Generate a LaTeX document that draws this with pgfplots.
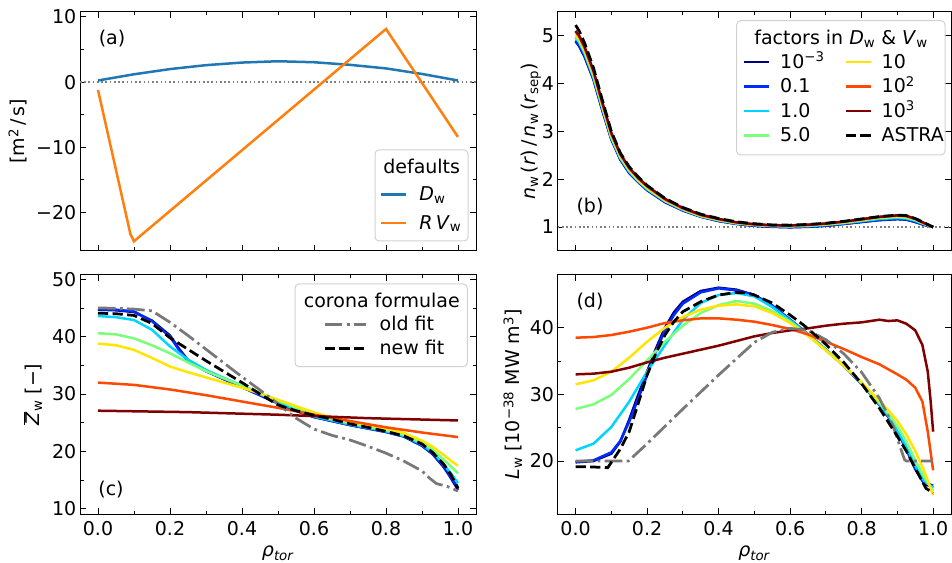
\documentclass[border=0pt]{standalone}
\usepackage{fontspec}
\setmainfont{DejaVu Sans}
\usepackage{pgfplots}
\pgfplotsset{compat=1.18}
\definecolor{cD}{HTML}{1F77B4}
\definecolor{cV}{HTML}{FF7F0E}
\definecolor{j1}{rgb}{0,0,0.5}
\definecolor{j2}{rgb}{0,0.167,1}
\definecolor{j3}{rgb}{0,0.833,1}
\definecolor{j4}{rgb}{0.484,1,0.484}
\definecolor{j5}{rgb}{1,0.9,0}
\definecolor{j6}{rgb}{1,0.284,0}
\definecolor{j7}{rgb}{0.5,0,0}
\definecolor{oldg}{rgb}{0.47,0.47,0.47}
\newcommand\fs{\fontsize{19}{22}\selectfont}
\pgfplotsset{
  every axis/.append style={
    scale only axis, height=239.3pt,
    xmin=-0.05, xmax=1.05,
    xtick={0,0.2,0.4,0.6,0.8,1}, minor x tick num=1,
    tick align=inside,
    major tick length=6pt, minor tick length=3.5pt,
    every tick/.style={black, line width=0.9pt},
    axis line style={line width=1pt},
    tick label style={font=\fs},
    label style={font=\fs},
    /pgf/number format/assume math mode=true,
    xticklabel style={/pgf/number format/fixed, /pgf/number format/fixed zerofill, /pgf/number format/precision=1, inner sep=0pt, yshift=-7.5pt},
    yticklabel style={inner sep=0pt, xshift=-3.5pt},
    legend style={draw=none, fill=none, font=\fs, inner sep=0pt, cells={anchor=west},
      nodes={inner sep=0pt, text height=14.5pt, text depth=2pt},
      /tikz/column sep=0pt},
  },
  ln/.style={line width=2.5pt},
  dsh/.style={line width=2.75pt, dash pattern=on 10.2pt off 4.4pt},
  dd/.style={line width=2.75pt, dash pattern=on 17.6pt off 4.4pt on 2.75pt off 4.4pt},
  dot/.style={line width=1.6pt, dash pattern=on 1.6pt off 2.64pt, gray},
}
\begin{document}
\begin{tikzpicture}
\useasboundingbox (0,0) rectangle (952pt,562pt);
% ---------------- (a)
\begin{axis}[at={(80pt,311pt)}, anchor=south west, width=396pt,
  ymin=-25.9, ymax=10.8, ytick={-20,-10,0,10}, yticklabels={−20,−10,0,10},
  minor y tick num=1, xticklabels={},
  ylabel={[m\textsuperscript{2}\,/\,s]},
  ylabel style={at={(axis description cs:-0.157,0.5)}, anchor=center},
  legend image code/.code={\draw[#1] (0pt,0pt) -- (25pt,0pt);},
  legend style={at={(axis description cs:0.7576,0.2714)}, anchor=north west, row sep=11.9pt,
    /tikz/every odd column/.append style={column sep=11.7pt}},
]
\addplot[dot, forget plot] coordinates {(-0.05,0) (1.05,0)};
\addplot[ln, cD] coordinates {(0,0.25)(0.1,1.2)(0.2,2.0)(0.3,2.6)(0.4,3.0)(0.5,3.2)(0.6,3.05)(0.7,2.65)(0.8,2.1)(0.9,1.25)(1.0,0.25)};
\addlegendentry{\textit{D}\textsubscript{w}}
\addplot[ln, cV] coordinates {(0,-1.2)(0.09,-23.3)(0.1,-24.4)(0.8,8.15)(1.0,-8.4)};
\addlegendentry{\textit{R}\,\textit{V}\textsubscript{w}}
\end{axis}
% ---------------- (b)
\begin{axis}[at={(557.7pt,311pt)}, anchor=south west, width=393.3pt,
  ymin=0.5, ymax=5.5, ytick={1,2,3,4,5}, xticklabels={},
  ylabel={\textit{n}\textsubscript{w}\,(\textit{r})\,/\,\textit{n}\textsubscript{w}\,(\textit{r}\textsubscript{sep})},
  ylabel style={at={(axis description cs:-0.068,0.5)}, anchor=center},
  legend image code/.code={\draw[#1] (0pt,0pt) -- (25pt,0pt);},
  legend columns=2,
  legend style={at={(axis description cs:0.4711,0.8255)}, anchor=north west, row sep=8pt,
    /tikz/every odd column/.append style={column sep=9.5pt},
    /tikz/every even column/.append style={column sep=20pt}},
]
\addplot[dot, forget plot] coordinates {(-0.05,1) (1.05,1)};
\addplot[ln, j1, forget plot] coordinates {(0,4.88)(0.01,4.78)(0.025,4.56)(0.05,4.08)(0.075,3.43)(0.1,2.83)(0.125,2.41)(0.15,2.13)(0.175,1.94)(0.2,1.77)(0.25,1.52)(0.3,1.345)(0.35,1.215)(0.4,1.125)(0.45,1.065)(0.5,1.025)(0.55,1.005)(0.6,0.995)(0.65,1.005)(0.7,1.025)(0.75,1.065)(0.8,1.105)(0.85,1.145)(0.9,1.165)(0.925,1.155)(0.95,1.105)(0.975,1.045)(1.0,1.0)};
\addplot[ln, j2, forget plot] coordinates {(0,4.90)(0.01,4.80)(0.025,4.58)(0.05,4.10)(0.075,3.45)(0.1,2.84)(0.125,2.42)(0.15,2.14)(0.175,1.95)(0.2,1.78)(0.25,1.53)(0.3,1.35)(0.35,1.22)(0.4,1.13)(0.45,1.07)(0.5,1.03)(0.55,1.01)(0.6,1.0)(0.65,1.01)(0.7,1.03)(0.75,1.07)(0.8,1.11)(0.85,1.15)(0.9,1.17)(0.925,1.16)(0.95,1.11)(0.975,1.05)(1.0,1.0)};
\addplot[ln, j3, forget plot] coordinates {(0,4.96)(0.01,4.86)(0.025,4.63)(0.05,4.13)(0.075,3.48)(0.1,2.86)(0.125,2.44)(0.15,2.16)(0.175,1.96)(0.2,1.79)(0.25,1.54)(0.3,1.36)(0.35,1.225)(0.4,1.14)(0.45,1.075)(0.5,1.04)(0.55,1.02)(0.6,1.01)(0.65,1.02)(0.7,1.045)(0.75,1.08)(0.8,1.125)(0.85,1.17)(0.9,1.19)(0.925,1.18)(0.95,1.13)(0.975,1.06)(1.0,1.0)};
\addplot[ln, j4, forget plot] coordinates {(0,4.98)(0.01,4.89)(0.025,4.66)(0.05,4.16)(0.075,3.50)(0.1,2.88)(0.125,2.46)(0.15,2.18)(0.175,1.97)(0.2,1.81)(0.25,1.55)(0.3,1.37)(0.35,1.23)(0.4,1.145)(0.45,1.08)(0.5,1.045)(0.55,1.025)(0.6,1.02)(0.65,1.03)(0.7,1.055)(0.75,1.09)(0.8,1.14)(0.85,1.19)(0.9,1.21)(0.925,1.20)(0.95,1.15)(0.975,1.07)(1.0,1.0)};
\addplot[ln, j5, forget plot] coordinates {(0,5.02)(0.01,4.93)(0.025,4.70)(0.05,4.20)(0.075,3.53)(0.1,2.91)(0.125,2.49)(0.15,2.20)(0.175,1.99)(0.2,1.82)(0.25,1.56)(0.3,1.38)(0.35,1.24)(0.4,1.155)(0.45,1.09)(0.5,1.05)(0.55,1.03)(0.6,1.025)(0.65,1.04)(0.7,1.06)(0.75,1.10)(0.8,1.15)(0.85,1.20)(0.9,1.225)(0.925,1.215)(0.95,1.16)(0.975,1.075)(1.0,1.0)};
\addplot[ln, j6, forget plot] coordinates {(0,5.08)(0.01,4.98)(0.025,4.75)(0.05,4.25)(0.075,3.58)(0.1,2.95)(0.125,2.52)(0.15,2.23)(0.175,2.02)(0.2,1.85)(0.25,1.58)(0.3,1.39)(0.35,1.25)(0.4,1.165)(0.45,1.095)(0.5,1.055)(0.55,1.035)(0.6,1.03)(0.65,1.045)(0.7,1.07)(0.75,1.11)(0.8,1.16)(0.85,1.21)(0.9,1.24)(0.925,1.23)(0.95,1.17)(0.975,1.08)(1.0,1.0)};
\addplot[ln, j7, forget plot] coordinates {(0,5.10)(0.01,5.00)(0.025,4.77)(0.05,4.27)(0.075,3.60)(0.1,2.97)(0.125,2.53)(0.15,2.24)(0.175,2.03)(0.2,1.86)(0.25,1.59)(0.3,1.40)(0.35,1.26)(0.4,1.17)(0.45,1.10)(0.5,1.06)(0.55,1.04)(0.6,1.035)(0.65,1.05)(0.7,1.075)(0.75,1.115)(0.8,1.165)(0.85,1.215)(0.9,1.245)(0.925,1.235)(0.95,1.175)(0.975,1.085)(1.0,1.0)};
\addplot[dsh, black, forget plot] coordinates {(0,5.22)(0.01,5.10)(0.025,4.85)(0.05,4.33)(0.075,3.65)(0.1,3.00)(0.125,2.55)(0.15,2.26)(0.175,2.05)(0.2,1.87)(0.25,1.60)(0.3,1.41)(0.35,1.27)(0.4,1.18)(0.45,1.11)(0.5,1.07)(0.55,1.045)(0.6,1.04)(0.65,1.055)(0.7,1.08)(0.75,1.12)(0.8,1.17)(0.85,1.22)(0.9,1.25)(0.925,1.24)(0.95,1.18)(0.975,1.09)(1.0,1.0)};
\addlegendimage{ln, j1}\addlegendentry{10\textsuperscript{−3}}
\addlegendimage{ln, j5}\addlegendentry{10}
\addlegendimage{ln, j2}\addlegendentry{0.1}
\addlegendimage{ln, j6}\addlegendentry{10\textsuperscript{2}}
\addlegendimage{ln, j3}\addlegendentry{1.0}
\addlegendimage{ln, j7}\addlegendentry{10\textsuperscript{3}}
\addlegendimage{ln, j4}\addlegendentry{5.0}
\addlegendimage{dsh, black}\addlegendentry{ASTRA}
\end{axis}
% ---------------- (c)
\begin{axis}[at={(80pt,48pt)}, anchor=south west, width=396pt,
  ymin=9.1, ymax=50.8, ytick={10,20,30,40,50}, minor y tick num=1,
  xlabel={\textit{ρ}\textsubscript{\textit{tor}}},
  xlabel style={at={(axis description cs:0.5,-0.165)}, anchor=center},
  ylabel={$\overline{\mbox{\textit{Z}}}$\textsubscript{w} [−]},
  ylabel style={at={(axis description cs:-0.119,0.5)}, anchor=center},
  legend image code/.code={\draw[#1] (0pt,0pt) -- (40.7pt,0pt);},
  legend style={at={(axis description cs:0.6144,0.8272)}, anchor=north west, row sep=7.5pt,
    /tikz/every odd column/.append style={column sep=12.7pt}},
]
\addplot[ln, j1, forget plot] coordinates {(0,44.7)(0.05,44.6)(0.1,44.3)(0.15,42.8)(0.2,40.2)(0.225,37.9)(0.25,35.9)(0.3,34.0)(0.35,32.6)(0.4,31.2)(0.45,29.8)(0.5,28.4)(0.55,27.1)(0.6,26.0)(0.65,25.3)(0.7,24.6)(0.75,24.0)(0.8,23.4)(0.85,22.6)(0.9,21.0)(0.93,19.5)(0.96,17.3)(0.98,15.4)(1.0,13.3)};
\addplot[ln, j2, forget plot] coordinates {(0,44.8)(0.05,44.7)(0.1,44.4)(0.15,42.7)(0.2,40.0)(0.225,37.7)(0.25,35.7)(0.3,34.0)(0.35,32.6)(0.4,31.2)(0.45,29.8)(0.5,28.4)(0.55,27.1)(0.6,26.0)(0.65,25.3)(0.7,24.6)(0.75,24.0)(0.8,23.4)(0.85,22.6)(0.9,21.0)(0.93,19.6)(0.96,17.5)(0.98,15.6)(1.0,13.6)};
\addplot[ln, j3, forget plot] coordinates {(0,43.6)(0.05,43.4)(0.1,42.9)(0.15,41.2)(0.2,38.3)(0.25,36.0)(0.3,34.2)(0.35,32.8)(0.4,31.5)(0.45,30.0)(0.5,28.6)(0.55,27.3)(0.6,26.1)(0.65,25.4)(0.7,24.7)(0.75,24.1)(0.8,23.5)(0.85,22.7)(0.9,21.2)(0.93,19.8)(0.96,17.8)(0.98,16.2)(1.0,14.5)};
\addplot[ln, j4, forget plot] coordinates {(0,40.6)(0.05,40.4)(0.1,39.7)(0.15,38.5)(0.2,37.1)(0.25,35.5)(0.3,34.0)(0.35,32.7)(0.4,31.5)(0.45,30.2)(0.5,28.9)(0.55,27.6)(0.6,26.4)(0.65,25.6)(0.7,24.9)(0.75,24.3)(0.8,23.7)(0.85,22.9)(0.9,21.5)(0.93,20.3)(0.96,18.6)(0.98,17.4)(1.0,16.2)};
\addplot[ln, j5, forget plot] coordinates {(0,38.8)(0.05,38.5)(0.1,37.7)(0.15,36.3)(0.2,34.8)(0.25,33.8)(0.3,32.9)(0.35,32.0)(0.4,31.1)(0.45,30.1)(0.5,29.0)(0.55,27.9)(0.6,26.8)(0.65,25.9)(0.7,25.2)(0.75,24.6)(0.8,24.0)(0.85,23.2)(0.9,21.9)(0.93,20.8)(0.96,19.4)(0.98,18.4)(1.0,17.5)};
\addplot[ln, j6, forget plot] coordinates {(0,32.0)(0.1,31.6)(0.2,30.8)(0.3,29.8)(0.4,28.7)(0.5,27.6)(0.6,26.4)(0.7,25.3)(0.8,24.2)(0.9,23.3)(1.0,22.5)};
\addplot[ln, j7, forget plot] coordinates {(0,27.1)(0.25,26.85)(0.5,26.4)(0.75,25.8)(1.0,25.4)};
\addplot[dd, oldg] coordinates {(0,45.0)(0.05,44.95)(0.1,44.8)(0.15,44.5)(0.2,42.5)(0.25,40.2)(0.3,37.8)(0.35,35.4)(0.4,33.0)(0.45,30.7)(0.5,28.3)(0.55,25.8)(0.6,23.9)(0.65,22.8)(0.7,22.0)(0.75,20.9)(0.8,19.7)(0.85,18.3)(0.9,16.6)(0.92,15.4)(0.94,14.4)(0.97,13.9)(1.0,13.1)};
\addlegendentry{old fit}
\addplot[dsh, black] coordinates {(0,44.1)(0.05,44.0)(0.1,43.7)(0.15,42.3)(0.2,39.8)(0.25,37.8)(0.3,35.8)(0.35,33.9)(0.4,32.0)(0.45,30.0)(0.5,28.1)(0.55,27.1)(0.6,26.3)(0.65,25.6)(0.7,24.8)(0.75,24.2)(0.8,23.5)(0.85,22.7)(0.9,21.3)(0.93,19.8)(0.96,17.8)(0.98,16.0)(1.0,13.6)};
\addlegendentry{new fit}
\end{axis}
% ---------------- (d)
\begin{axis}[at={(557.7pt,48pt)}, anchor=south west, width=393.3pt,
  ymin=12.05, ymax=47.95, ytick={20,30,40}, minor y tick num=1,
  xlabel={\textit{ρ}\textsubscript{\textit{tor}}},
  xlabel style={at={(axis description cs:0.5,-0.165)}, anchor=center},
  ylabel={\textit{L}\textsubscript{w} [10\textsuperscript{−38} MW m\textsuperscript{3}]},
  ylabel style={at={(axis description cs:-0.114,0.5)}, anchor=center},
]
\addplot[ln, j1] coordinates {(0,19.8)(0.05,20.0)(0.1,21.1)(0.125,22.9)(0.15,26.2)(0.175,29.9)(0.2,33.4)(0.225,36.9)(0.25,40.0)(0.275,42.3)(0.3,43.9)(0.35,45.5)(0.4,46.0)(0.45,45.7)(0.5,44.9)(0.55,43.3)(0.6,41.2)(0.65,39.0)(0.7,36.7)(0.75,34.3)(0.8,31.6)(0.85,28.4)(0.875,26.6)(0.9,24.4)(0.925,21.8)(0.95,18.8)(0.975,16.6)(1.0,16.0)};
\addplot[ln, j2] coordinates {(0,19.9)(0.05,20.1)(0.1,21.3)(0.125,23.0)(0.15,25.9)(0.175,29.3)(0.2,32.9)(0.225,36.5)(0.25,39.6)(0.275,41.9)(0.3,43.6)(0.35,45.3)(0.4,45.9)(0.45,45.6)(0.5,44.9)(0.55,43.3)(0.6,41.2)(0.65,39.0)(0.7,36.7)(0.75,34.3)(0.8,31.6)(0.85,28.4)(0.875,26.6)(0.9,24.4)(0.925,21.8)(0.95,18.9)(0.975,16.8)(1.0,16.3)};
\addplot[ln, j3] coordinates {(0,21.6)(0.05,22.6)(0.1,25.1)(0.15,28.9)(0.2,33.4)(0.25,37.4)(0.3,41.2)(0.35,43.7)(0.4,44.9)(0.45,45.2)(0.5,44.7)(0.55,43.1)(0.6,41.1)(0.65,39.0)(0.7,36.7)(0.75,34.3)(0.8,31.7)(0.85,28.5)(0.875,26.8)(0.9,24.6)(0.925,22.1)(0.95,19.3)(0.975,17.0)(1.0,16.0)};
\addplot[ln, j4] coordinates {(0,27.8)(0.05,28.5)(0.1,29.9)(0.15,32.3)(0.2,35.1)(0.25,37.9)(0.3,40.3)(0.35,42.2)(0.4,43.4)(0.45,44.0)(0.5,43.6)(0.55,42.5)(0.6,40.9)(0.65,38.9)(0.7,36.6)(0.75,34.3)(0.8,31.7)(0.85,28.7)(0.875,27.1)(0.9,25.2)(0.925,22.9)(0.95,20.1)(0.975,17.6)(1.0,15.5)};
\addplot[ln, j5] coordinates {(0,31.5)(0.05,32.1)(0.1,33.4)(0.15,35.5)(0.2,37.9)(0.25,40.0)(0.3,41.6)(0.35,42.7)(0.4,43.3)(0.45,43.5)(0.5,43.2)(0.55,42.2)(0.6,40.7)(0.65,38.8)(0.7,36.6)(0.75,34.3)(0.8,31.8)(0.85,29.0)(0.875,27.6)(0.9,26.0)(0.925,24.0)(0.95,21.5)(0.975,18.5)(1.0,14.9)};
\addplot[ln, j6] coordinates {(0,38.5)(0.05,38.6)(0.1,38.9)(0.15,39.4)(0.2,40.0)(0.25,40.7)(0.3,41.1)(0.35,41.4)(0.4,41.4)(0.45,41.2)(0.5,40.9)(0.55,40.4)(0.6,39.8)(0.65,39.0)(0.7,37.9)(0.75,36.8)(0.8,35.6)(0.85,34.5)(0.9,33.0)(0.925,32.2)(0.95,31.0)(0.97,28.9)(0.985,24.4)(1.0,18.6)};
\addplot[ln, j7] coordinates {(0,33.0)(0.05,33.1)(0.1,33.4)(0.15,34.0)(0.2,34.8)(0.25,35.5)(0.3,36.1)(0.35,36.7)(0.4,37.3)(0.45,38.0)(0.5,38.7)(0.55,39.2)(0.6,39.6)(0.65,39.9)(0.7,40.3)(0.75,40.6)(0.8,40.8)(0.85,41.2)(0.875,41.0)(0.9,41.1)(0.925,40.6)(0.95,39.6)(0.97,37.4)(0.985,33.4)(0.993,29.0)(1.0,24.4)};
\addplot[dd, oldg] coordinates {(0,20.0)(0.148,20.0)(0.2,22.6)(0.3,27.8)(0.4,32.9)(0.5,37.8)(0.55,39.3)(0.6,39.9)(0.65,39.6)(0.7,38.2)(0.75,36.1)(0.8,33.3)(0.85,29.4)(0.887,25.4)(0.92,20.2)(0.925,20.0)(1.0,20.0)};
\addplot[dsh, black] coordinates {(0,19.15)(0.05,19.1)(0.09,19.0)(0.105,20.2)(0.125,21.8)(0.15,24.4)(0.175,28.6)(0.2,32.9)(0.225,36.2)(0.25,38.9)(0.275,40.9)(0.3,42.4)(0.35,43.9)(0.4,44.9)(0.45,45.3)(0.48,45.2)(0.5,44.9)(0.55,43.7)(0.6,41.9)(0.64,40.3)(0.7,37.5)(0.75,34.8)(0.8,31.6)(0.85,27.9)(0.9,23.7)(0.925,21.5)(0.95,18.9)(0.98,15.9)(1.0,15.2)};
\end{axis}
% legend frames and titles
\draw[rounded corners=4pt, black!18, line width=1pt] (375pt,321pt) rectangle (468pt,412pt);
\node[font=\fs] at (421.7pt,396pt) {defaults};
\draw[rounded corners=4pt, black!18, line width=1pt] (736.7pt,407pt) rectangle (945pt,541.3pt);
\node[font=\fs] at (841pt,523.5pt) {factors in \textit{D}\textsubscript{w} \& \textit{V}\textsubscript{w}};
\draw[rounded corners=4pt, black!18, line width=1pt] (295pt,195.3pt) rectangle (467.3pt,278pt);
\node[font=\fs] at (381.8pt,262pt) {corona formulae};
% panel labels
\node[font=\fs] at (112pt,523pt) {(a)};
\node[font=\fs] at (590pt,355pt) {(b)};
\node[font=\fs] at (111pt,72pt) {(c)};
\node[font=\fs] at (590pt,260pt) {(d)};
\end{tikzpicture}
\end{document}
